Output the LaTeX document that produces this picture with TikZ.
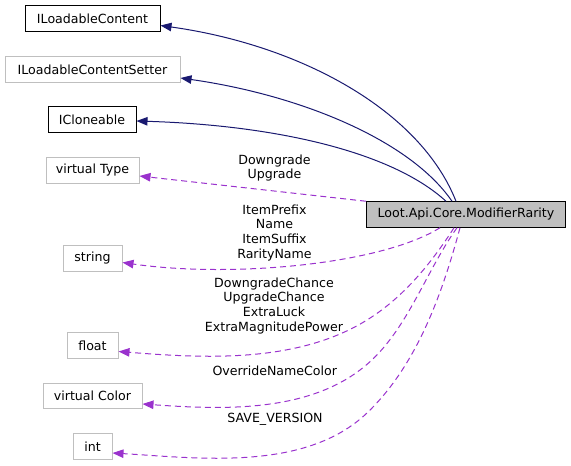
\documentclass[tikz,border=0pt]{standalone}
\usepackage{fontspec}
\setmainfont{DejaVu Sans}
\usetikzlibrary{arrows.meta}
\definecolor{inhblue}{HTML}{191970}
\definecolor{usepurple}{HTML}{9A32CD}
\definecolor{boxgray}{HTML}{BFBFBF}
\tikzset{
  cls/.style={draw=black, line width=1pt, minimum height=25.5pt, inner sep=0pt,
    font=\fontsize{12.6}{14.6}\selectfont},
  extcls/.style={cls, draw=boxgray},
  maincls/.style={cls, fill=boxgray},
  inh/.style={draw=inhblue, line width=1pt, -{Triangle[length=11pt,width=8.5pt]}, fill=none},
  usedby/.style={draw=usepurple, line width=1pt, dash pattern=on 6pt off 4pt,
    -{Triangle[length=11pt,width=8.5pt]}},
  lbl/.style={align=center, inner sep=0pt, font=\fontsize{12.6}{14.6}\selectfont}
}
\begin{document}
\begin{tikzpicture}[x=1pt,y=-1pt]
\useasboundingbox (0,0) rectangle (571,466);
% nodes
\node[cls, minimum width=135pt] (ilc) at (92.5,18.5) {ILoadableContent};
\node[extcls, minimum width=175pt] (ilcs) at (92.5,69.5) {ILoadableContentSetter};
\node[cls, minimum width=88pt] (iclone) at (92,119.5) {ICloneable};
\node[extcls, minimum width=93pt] (vtype) at (92.5,170.5) {virtual Type};
\node[extcls, minimum width=59pt] (str) at (92.5,258.5) {string};
\node[extcls, minimum width=51pt] (flt) at (92.5,345.5) {float};
\node[extcls, minimum width=99pt] (vcolor) at (92.5,396) {virtual Color};
\node[extcls, minimum width=39pt] (int) at (92.5,446.5) {int};
\node[maincls, minimum width=199pt] (main) at (466,214.5) {Loot.Api.Core.ModifierRarity};
% inheritance
\draw[inh] ([xshift=-10pt]main.north) .. controls (420,110) and (300,45) .. ([yshift=-7pt]ilc.east);
\draw[inh] ([xshift=-14pt]main.north) .. controls (410,140) and (300,95) .. ([yshift=-8.5pt]ilcs.east);
\draw[inh] ([xshift=-20pt]main.north) .. controls (390,150) and (270,125) .. ([yshift=-1.5pt]iclone.east);
% usage
\draw[usedby] (main.north west) -- ([yshift=-5.5pt]vtype.east);
\draw[usedby] ([xshift=-26pt]main.south) .. controls (380,265) and (230,278) .. ([yshift=-4pt]str.east);
\draw[usedby] ([xshift=-12pt]main.south) .. controls (431.6,262.8) and (403.5,297.5) .. (367,320)
  .. controls (296,364) and (202,358) .. ([yshift=-6pt]flt.east);
\draw[usedby] ([xshift=-9pt]main.south) .. controls (424,274) and (405.6,336) .. (360,370)
  .. controls (302,414) and (215,409) .. ([yshift=-8pt]vcolor.east);
\draw[usedby] ([xshift=-6pt]main.south) .. controls (442,294.6) and (416.7,365.4) .. (367,413)
  .. controls (305,472) and (198,458) .. ([yshift=-6.5pt]int.east);
% labels
\node[lbl] (lt) at (274.5,168) {Downgrade\\Upgrade};
\node[lbl] (ls) at (274.5,232.7) {ItemPrefix\\Name\\ItemSuffix\\RarityName};
\node[lbl] (lf) at (274,305.7) {DowngradeChance\\UpgradeChance\\ExtraLuck\\ExtraMagnitudePower};
\node[lbl] (lc) at (274.8,371) {OverrideNameColor};
\node[lbl] (li) at (275,419.3) {SAVE\_VERSION};
\end{tikzpicture}
\end{document}
